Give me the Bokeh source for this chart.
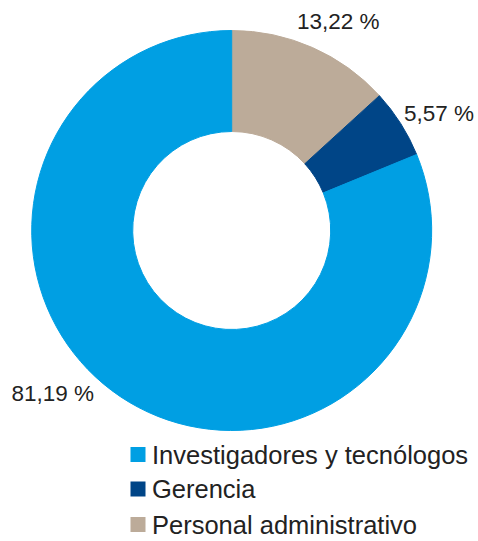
import math
from bokeh.plotting import figure
from bokeh.models import Range1d, ColumnDataSource
from bokeh.core.properties import value
from bokeh.embed import file_html
from bokeh.resources import INLINE

# ---- data ----
categories = ["Investigadores y tecnólogos", "Gerencia", "Personal administrativo"]
shares = [81.19, 5.57, 13.22]
colors = ["#009FE3", "#004587", "#BCAB99"]
# drawing order clockwise from 12 o'clock
draw_order = [2, 1, 0]

# ---- layout (pixels) ----
W, H = 478, 541
cx, cy = 231.2, 311.0
r_in, r_out = 99.0, 200.0
FONT = "Liberation Sans"
TXT = "#222222"

p = figure(width=W, height=H, output_backend="svg", toolbar_location=None,
           x_range=Range1d(0, W), y_range=Range1d(0, H), min_border=0)
p.axis.visible = False
p.grid.visible = False
p.outline_line_color = None
p.background_fill_color = "white"

total = sum(shares)
starts, ends, cols = [], [], []
cum = 0.0
for i in draw_order:
    a0 = 2 * math.pi * cum / total
    cum += shares[i]
    a1 = 2 * math.pi * cum / total
    starts.append(math.pi / 2 - a1)
    ends.append(math.pi / 2 - a0)
    cols.append(colors[i])

src = ColumnDataSource(dict(x=[cx] * 3, y=[cy] * 3, s=starts, e=ends, c=cols))
p.annular_wedge(x="x", y="y", inner_radius=r_in, outer_radius=r_out,
                start_angle="s", end_angle="e", fill_color="c", line_color="c",
                line_width=1, source=src)

# percent labels (left edge x, vertical centre y), order = categories
label_pos = [(11, 148.5), (403.5, 428.5), (296.5, 520)]
lbl = ColumnDataSource(dict(
    x=[pp[0] for pp in label_pos], y=[pp[1] for pp in label_pos],
    t=[f"{v:.2f}".replace(".", ",") + " %" for v in shares]))
p.text(x="x", y="y", text="t", source=lbl, text_font=value(FONT),
       text_font_size="22.5px", text_color=TXT, text_align="left",
       text_baseline="middle")

# legend
leg_y = [87.0, 52.5, 17.0]
leg = ColumnDataSource(dict(x=[137.5] * 3, y=leg_y, c=colors,
                            tx=[151.5] * 3, t=categories))
p.rect(x="x", y="y", width=15, height=15, fill_color="c", line_color=None,
       source=leg)
p.text(x="tx", y="y", text="t", source=leg, text_font=value(FONT),
       text_font_size="25.5px", text_color=TXT, text_align="left",
       text_baseline="middle")

open("out.html", "w").write(file_html(p, INLINE))
